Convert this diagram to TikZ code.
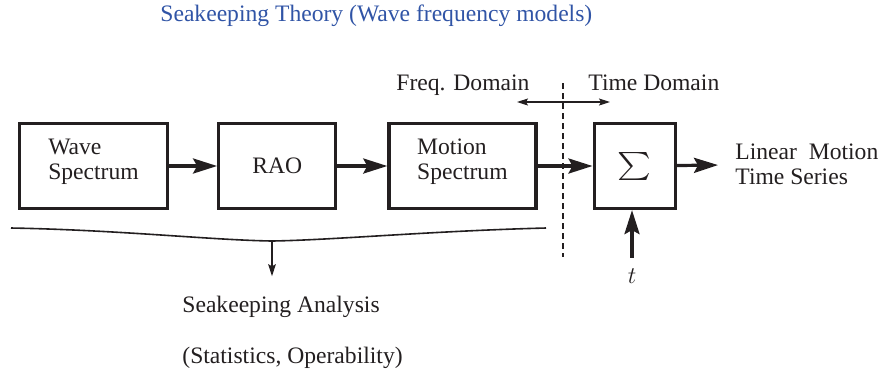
\documentclass[tikz,border=0pt]{standalone}
\usepackage{fontspec}
\setmainfont{Liberation Serif}
\usepackage{graphicx}
\usetikzlibrary{positioning,arrows.meta}
\definecolor{dInk}{RGB}{35,31,32}
\definecolor{dTitle}{RGB}{48,84,166}
\tikzset{
  blk/.style={rectangle, draw=dInk, line width=1.6pt, minimum height=42.5pt,
              align=left, font=\fontsize{11.8}{12.5}\selectfont, text=dInk, inner sep=2pt},
  flow/.style={-{Stealth[length=12pt,width=7.5pt,inset=2pt]}, draw=dInk, line width=1.6pt},
  lnk/.style={-{Stealth[length=6pt,width=3.8pt,inset=1pt]}, draw=dInk, line width=0.6pt},
  bilnk/.style={{Stealth[length=5.5pt,width=3.5pt,inset=1pt]}-{Stealth[length=5.5pt,width=3.5pt,inset=1pt]},
                draw=dInk, line width=0.6pt},
  lbl/.style={font=\fontsize{11.8}{12.5}\selectfont, text=dInk, inner sep=0pt},
}

\begin{document}
\begin{tikzpicture}[x=0.5pt,y=-0.5pt,node distance=24pt]
  \useasboundingbox (0,0) rectangle (883,372);

  %====================== TITLE ======================
  \node[lbl, anchor=base west, text=dTitle] (title) at (160,21)
    {Seakeeping Theory (Wave frequency models)};

  %====================== SIGNAL CHAIN ======================
  \node[blk, minimum width=74pt, text depth=7pt] (wave) at (93.5,166) {Wave\\Spectrum};
  \node[blk, minimum width=58.5pt, right=24pt of wave] (rao) {RAO};
  \node[blk, minimum width=73.5pt, text depth=7pt, right=25pt of rao] (motion) {Motion\\Spectrum};
  \node[blk, minimum width=40.5pt, right=27.5pt of motion] (sum) {\scalebox{1.6}[1.4]{$\sum$}};

  \node[lbl, anchor=west, align=left] (out) at (735,164) {Linear\ \ Motion\\Time Series};
  \node[lbl, anchor=base] (tlab) at (632,283) {$t$};

  \draw[flow] (wave) -- (rao);
  \draw[flow] (rao) -- (motion);
  \draw[flow] (motion) -- (sum);
  \draw[flow, shorten >=8.5pt] (sum) -- (out);
  \draw[flow, shorten <=5pt] (tlab.north) -- (tlab.north |- sum.south);

  %====================== FREQ / TIME SPLIT ======================
  \coordinate (cuttop) at (563,83);
  \coordinate (cutbot) at (563,257);
  \draw[dInk, line width=0.6pt, dash pattern=on 3pt off 2pt] (cuttop) -- (cutbot);

  \node[lbl, anchor=base west] (freq) at (396,90) {Freq. Domain};
  \node[lbl, anchor=base west] (time) at (588,90) {Time Domain};
  \coordinate (dl) at (517,102);
  \coordinate (dr) at (610,102);
  \draw[bilnk] (dl) -- (dr);

  %====================== ANALYSIS BRACE ======================
  \coordinate (bl) at (11,228);
  \coordinate (bm) at (272,241);
  \coordinate (br) at (546,228);
  \draw[dInk, line width=0.8pt] (bl) .. controls (120,230) and (210,240) .. (bm)
                                     .. controls (334,240) and (430,231) .. (br);

  \node[lbl, anchor=base west] (ana) at (182,312) {Seakeeping Analysis};
  \node[lbl, anchor=base west] (stats) at (182,363) {(Statistics, Operability)};
  \draw[lnk, shorten >=9.5pt] (bm) -- (bm |- ana.north);

\end{tikzpicture}
\end{document}
